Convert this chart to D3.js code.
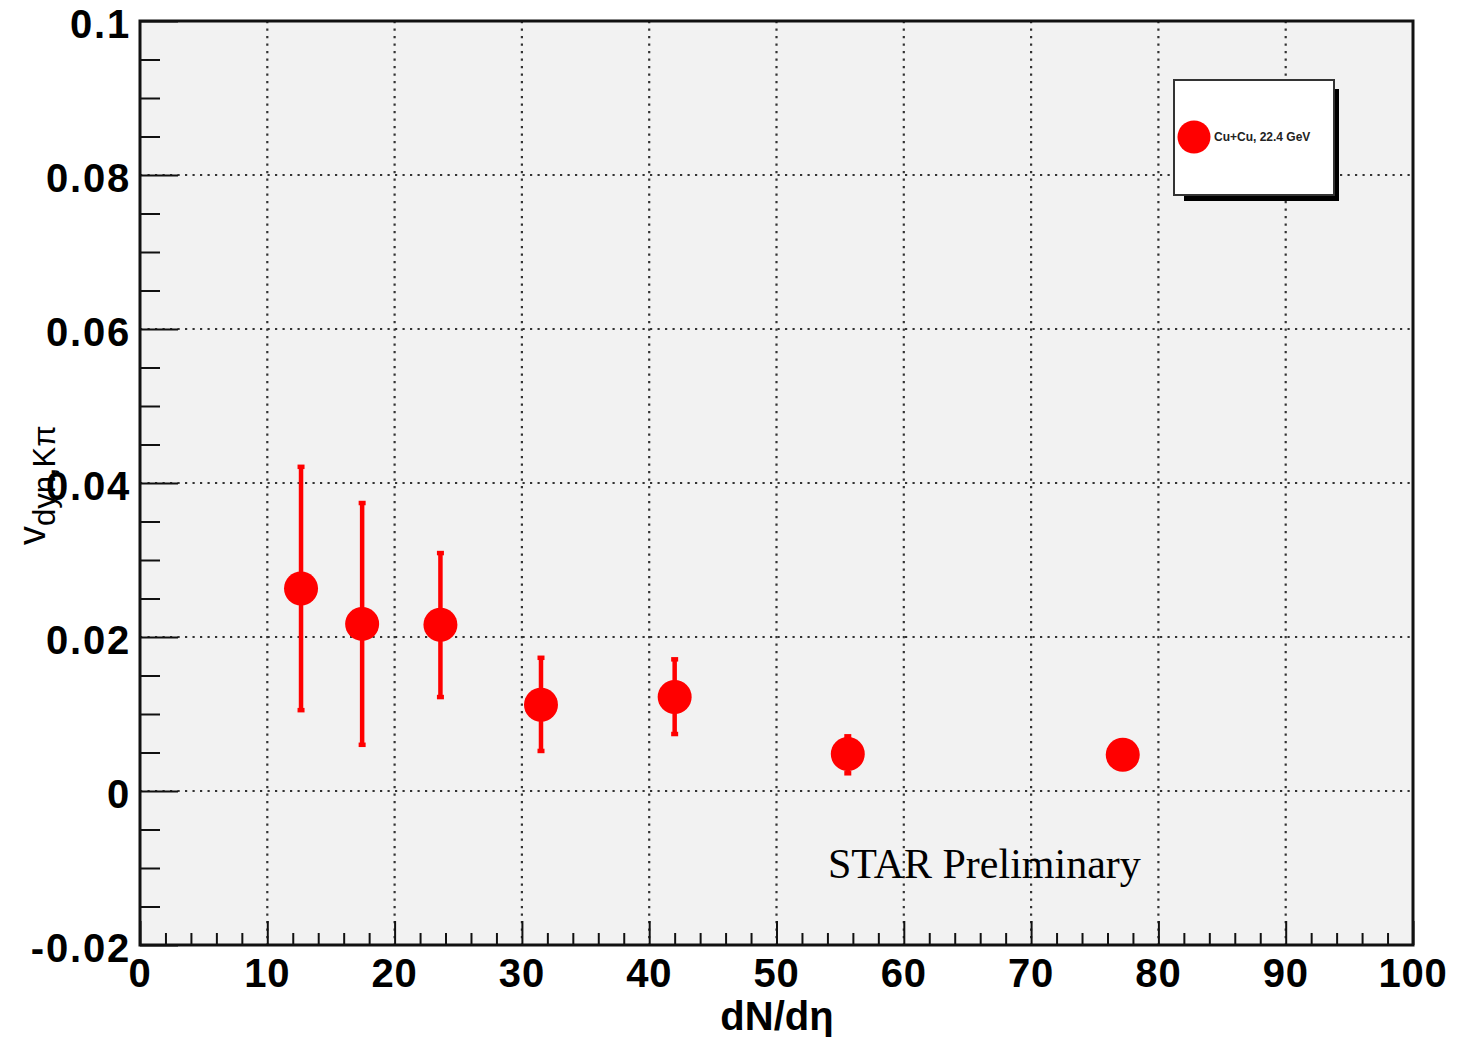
<!DOCTYPE html>
<html>
<head>
<meta charset="utf-8">
<script src="https://cdn.jsdelivr.net/npm/d3@7"></script>
<style>
  body { margin: 0; background: #fff; }
  svg { display: block; }
</style>
</head>
<body>
<svg></svg>
<script>
// data
var dndeta = [12.65, 17.45, 23.6, 31.5, 42.0, 55.6, 77.2];
var vdyn   = [0.0263, 0.0217, 0.0216, 0.0112, 0.0122, 0.0048, 0.0047];
var errHi  = [0.0421, 0.0374, 0.0309, 0.0173, 0.0171, 0.0071, 0.0050];
var errLo  = [0.0105, 0.0060, 0.0122, 0.0052, 0.0074, 0.0023, 0.0044];
var xTicks = [0, 10, 20, 30, 40, 50, 60, 70, 80, 90, 100];
var yTicks = [-0.02, 0, 0.02, 0.04, 0.06, 0.08, 0.1];
var legendLabel = "Cu+Cu, 22.4 GeV";

var width = 1457, height = 1037;
// (window.top is reserved, so the frame edges get their own names)
var fLeft = 140, fRight = 1413, fTop = 21, fBottom = 945;

var svg = d3.select("svg").attr("width", width).attr("height", height);

var x = d3.scaleLinear().domain([0, 100]).range([fLeft, fRight]);
var y = d3.scaleLinear().domain([-0.02, 0.1]).range([fBottom, fTop]);

// frame background
svg.append("rect")
  .attr("x", fLeft).attr("y", fTop)
  .attr("width", fRight - fLeft).attr("height", fBottom - fTop)
  .attr("fill", "#f2f2f2");

// dotted grid
var grid = svg.append("g").attr("stroke", "#333").attr("stroke-width", 2.2)
  .attr("stroke-dasharray", "2.2,5.3");
xTicks.slice(1, -1).forEach(function(t) {
  grid.append("line").attr("x1", x(t)).attr("x2", x(t)).attr("y1", fTop).attr("y2", fBottom);
});
yTicks.slice(1, -1).forEach(function(t) {
  grid.append("line").attr("x1", fLeft).attr("x2", fRight).attr("y1", y(t)).attr("y2", y(t));
});

// axes with ROOT style ticks (inside)
var yAxis = d3.axisLeft(y).tickValues(d3.range(-0.02, 0.1001, 0.005))
  .tickSize(-20).tickFormat("");
var gy = svg.append("g").attr("transform", "translate(" + fLeft + ",0)").call(yAxis);
gy.selectAll(".tick line").filter(function(d) {
  return Math.abs(Math.round(d / 0.02) * 0.02 - d) < 1e-9;
}).attr("x2", 38);
var xAxis = d3.axisBottom(x).tickValues(d3.range(0, 101, 2))
  .tickSize(-12).tickFormat("");
var gx = svg.append("g").attr("transform", "translate(0," + fBottom + ")").call(xAxis);
gx.selectAll(".tick line").filter(function(d) { return d % 10 === 0; }).attr("y2", -24);
svg.selectAll(".domain").remove();
svg.selectAll(".tick line").attr("stroke", "#111").attr("stroke-width", 2);

// frame border
svg.append("rect")
  .attr("x", fLeft).attr("y", fTop)
  .attr("width", fRight - fLeft).attr("height", fBottom - fTop)
  .attr("fill", "none").attr("stroke", "#111").attr("stroke-width", 3);

// tick labels
var lab = svg.append("g")
  .style("font-family", "'Liberation Sans', Arial, Helvetica, sans-serif")
  .style("font-weight", "bold").style("font-size", "40px").attr("fill", "#000");
yTicks.forEach(function(t) {
  lab.append("text").attr("x", 131).attr("y", y(t) + 3).attr("dy", "0.36em")
    .attr("text-anchor", "end").style("letter-spacing", "1.8px")
    .text(t === 0 ? "0" : String(+t.toFixed(2)));
});
xTicks.forEach(function(t) {
  lab.append("text").attr("x", x(t)).attr("y", 987).attr("text-anchor", "middle")
    .style("letter-spacing", "0.8px").text(t);
});

// axis titles
svg.append("text")
  .attr("x", 777).attr("y", 1030).attr("text-anchor", "middle")
  .style("font-family", "'Liberation Sans', Arial, sans-serif")
  .style("font-weight", "bold").style("font-size", "40px")
  .text("dN/dη");

var yt = svg.append("text")
  .attr("transform", "translate(45,545) rotate(-90)")
  .style("font-family", "'Liberation Sans', Arial, sans-serif")
  .style("font-size", "38px");
yt.append("tspan").text("v");
yt.append("tspan").attr("dy", 10).style("font-size", "31px").text("dyn,Kπ");

// error bars
var pts = dndeta.map(function(d, i) {
  return { x: d, y: vdyn[i], hi: errHi[i], lo: errLo[i] };
});
var eb = svg.append("g").attr("stroke", "#ff0000").attr("stroke-width", 4.5);
pts.forEach(function(p) {
  eb.append("line").attr("x1", x(p.x)).attr("x2", x(p.x)).attr("y1", y(p.hi)).attr("y2", y(p.lo));
  eb.append("line").attr("x1", x(p.x) - 3.5).attr("x2", x(p.x) + 3.5).attr("y1", y(p.hi)).attr("y2", y(p.hi));
  eb.append("line").attr("x1", x(p.x) - 3.5).attr("x2", x(p.x) + 3.5).attr("y1", y(p.lo)).attr("y2", y(p.lo));
});

svg.append("g").selectAll("circle").data(pts).enter().append("circle")
  .attr("cx", function(d) { return x(d.x); })
  .attr("cy", function(d) { return y(d.y); })
  .attr("r", 17).attr("fill", "#ff0000");

// STAR Preliminary
svg.append("text")
  .attr("x", 828).attr("y", 878)
  .style("font-family", "'Liberation Serif', 'Times New Roman', serif")
  .style("font-size", "42px").text("STAR Preliminary");

// legend
var lg = svg.append("g");
lg.append("rect").attr("x", 1184).attr("y", 89).attr("width", 155).attr("height", 112).attr("fill", "#000");
lg.append("rect").attr("x", 1174).attr("y", 80).attr("width", 160).attr("height", 115)
  .attr("fill", "#fff").attr("stroke", "#333").attr("stroke-width", 2);
lg.append("circle").attr("cx", 1194).attr("cy", 137).attr("r", 16.5).attr("fill", "#ff0000");
lg.append("text").attr("x", 1214).attr("y", 137).attr("dy", "0.36em")
  .style("font-family", "'Liberation Sans', Arial, sans-serif")
  .style("font-weight", "bold").style("font-size", "12px").attr("fill", "#222")
  .text(legendLabel);
</script>
</body>
</html>
